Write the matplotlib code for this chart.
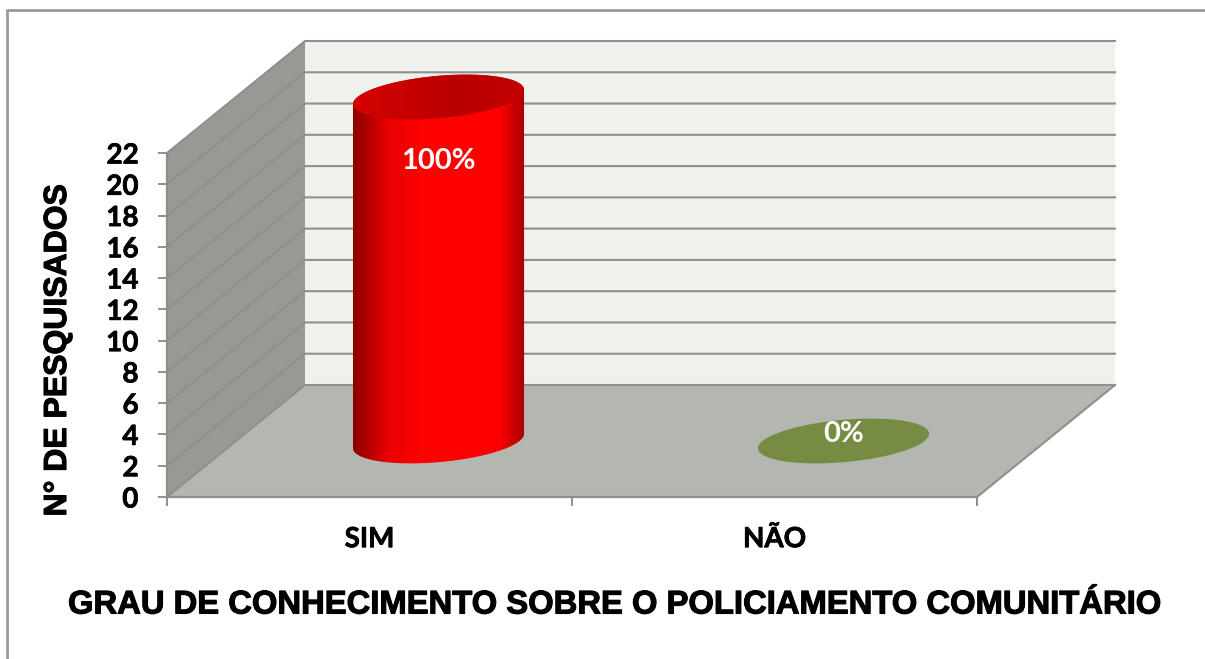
import numpy as np
import matplotlib
matplotlib.use('Agg')
import matplotlib.pyplot as plt
import matplotlib.patheffects as pe
from matplotlib.lines import Line2D
from matplotlib.colors import LinearSegmentedColormap
from matplotlib.patches import PathPatch
from matplotlib.path import Path

categories = ['SIM', 'NÃO']
values = [22, 0]
percents = ['100%', '0%']
y_ticks = list(range(0, 23, 2))

W, H = 1205, 659
GRID = '#8e908c'
# profundidade do grafico 3D, em unidades dos eixos
DX = 138 / 405
DY = 112 / (344 / 22)
RX = 0.2
RD = 0.2

fig = plt.figure(figsize=(W / 100, H / 100), dpi=100)
ax = fig.add_axes([167 / W, (H - 497) / H, 810 / W, 344 / H])
ax.set_xlim(0, 2)
ax.set_ylim(0, 22)
ax.set_autoscale_on(False)

# moldura de fora
fig.add_artist(Line2D([7 / W, 7 / W, 1], [0, 1 - 10 / H, 1 - 10 / H], color='#9a9a9a', lw=2))

# paredes e chao
ax.fill([DX, 2 + DX, 2 + DX, DX], [DY, DY, 22 + DY, 22 + DY], color='#eff2ec', lw=0, zorder=1, clip_on=False)
ax.fill([0, DX, DX, 0], [0, DY, 22 + DY, 22], color='#979a94', lw=0, zorder=1, clip_on=False)
ax.fill([0, 2, 2 + DX, DX], [0, 0, DY, DY], color='#b4b7b0', lw=0, zorder=1, clip_on=False)

for v in y_ticks:
    ax.plot([0, DX, 2 + DX], [v, v + DY, v + DY], color=GRID, lw=1.5, zorder=2, clip_on=False)
ax.plot([2, 2 + DX], [0, DY], color=GRID, lw=1.5, zorder=2, clip_on=False)


def ellipse(cx, v, t):
    x = cx + DX * 0.5 + RX * np.cos(t) + RD * DX * np.sin(t)
    y = v + DY * 0.5 + RD * DY * np.sin(t)
    return np.column_stack([x, y])


def gradient(path, colors, x0, x1, y0, y1, zorder):
    cmap = LinearSegmentedColormap.from_list('c', colors)
    grad = np.linspace(0, 1, 256).reshape(1, -1)
    im = ax.imshow(grad, cmap=cmap, extent=[x0, x1, y0, y1], aspect='auto',
                   origin='lower', zorder=zorder)
    im.set_clip_box(fig.bbox)
    im.set_clip_path(PathPatch(path, transform=ax.transData))


for i, (val, pct) in enumerate(zip(values, percents)):
    cx = i + 0.5
    # ponto extremo da elipse em x
    t0 = np.arctan2(RD * DX, RX)
    half = np.hypot(RX, RD * DX)
    if val > 0:
        front = ellipse(cx, 0, np.linspace(t0 + np.pi, t0 + 2 * np.pi, 100))
        back = ellipse(cx, val, np.linspace(t0, t0 + np.pi, 100))
        body = Path(np.vstack([front, back, front[:1]]))
        x0 = cx + DX * 0.5 - half
        x1 = cx + DX * 0.5 + half
        gradient(body, [(0, '#8c0000'), (0.2, '#e80000'), (0.4, '#ff0000'),
                        (0.85, '#ff0000'), (1, '#a80000')], x0, x1, 0, val + DY, 4)
        top = Path(ellipse(cx, val, np.linspace(0, 2 * np.pi, 200)))
        gradient(top, [(0, '#d60000'), (0.6, '#b80000'), (1, '#c40000')], x0, x1, 0, val + DY, 5)
        ty = val - 4.1
    else:
        ax.fill(*ellipse(cx, val, np.linspace(0, 2 * np.pi, 200)).T, color='#758c42', lw=0, zorder=4, clip_on=False)
        ty = val + 0.45
    ax.text(cx + DX * 0.5, ty + DY * 0.5, pct, color='white', ha='center', va='center',
            family='Lato', fontweight='bold', fontsize=21, zorder=6)

# eixos
for s in ['top', 'right']:
    ax.spines[s].set_visible(False)
for s in ['left', 'bottom']:
    ax.spines[s].set_color(GRID)
    ax.spines[s].set_linewidth(1.6)
    ax.spines[s].set_zorder(3)
ax.set_facecolor('none')

medium = [pe.withStroke(linewidth=0.5, foreground='black')]
ax.set_yticks(y_ticks)
ax.set_xticks([0, 1, 2])
ax.set_xticklabels([])
ax.set_xticks([0.5, 1.5], minor=True)
ax.set_xticklabels(categories, minor=True, family='Lato', fontweight='bold', fontsize=20, path_effects=medium)
ax.tick_params(axis='x', which='major', length=6.5, width=1.4, color=GRID)
ax.tick_params(axis='x', which='minor', length=0, pad=21)
ax.tick_params(axis='y', length=6.5, width=1.4, color=GRID, pad=14)
for lab in ax.get_yticklabels():
    lab.set_family('Lato')
    lab.set_fontweight('bold')
    lab.set_fontsize(20)
    lab.set_path_effects(medium)

heavy = [pe.withStroke(linewidth=0.8, foreground='black')]
ax.set_ylabel('N° DE PESQUISADOS', family='Liberation Sans', fontweight='bold', fontsize=23,
              va='center', path_effects=heavy)
ax.yaxis.set_label_coords((58 - 167) / 810, (497 - 350) / 344)
ax.set_xlabel('GRAU DE CONHECIMENTO SOBRE O POLICIAMENTO COMUNITÁRIO',
              family='Liberation Sans', fontweight='bold', fontsize=23.6, va='center', path_effects=heavy)
ax.xaxis.set_label_coords((615 - 167) / 810, (497 - 605) / 344)

fig.savefig('out.png', dpi=100)
